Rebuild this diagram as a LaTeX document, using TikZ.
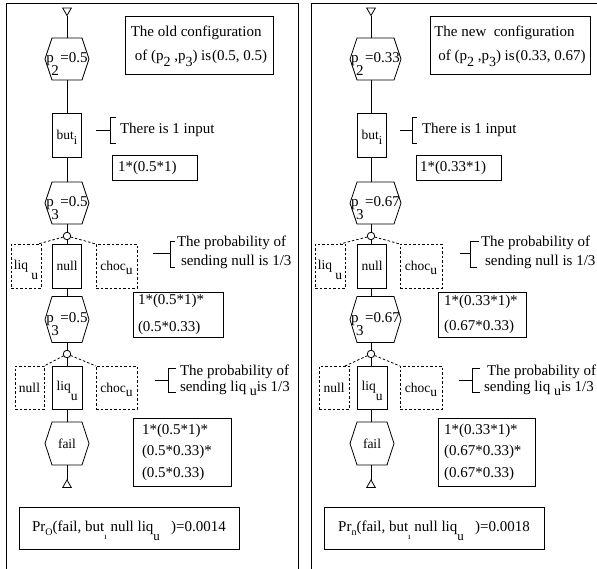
\documentclass[tikz,border=0pt]{standalone}
\usepackage{fontspec}
\setmainfont{Liberation Serif}
\usetikzlibrary{shapes.geometric}
\newcommand\lo[3]{\smash{\raisebox{-#1pt}{\fontsize{#2}{#2}\selectfont #3}}}
\newcommand\hexo[1]{\draw ([xshift=7pt]#1.north west) -- ([xshift=-7pt]#1.north east) -- (#1.east) -- ([xshift=-7pt]#1.south east) -- ([xshift=7pt]#1.south west) -- (#1.west) -- cycle;}
\begin{document}
\begin{tikzpicture}[x=1pt,y=-1pt,line width=0.8pt,
 every node/.style={inner sep=0pt,outer sep=0pt},
 txt/.style={font=\fontsize{15}{19}\selectfont,align=left},
 hexa/.style={minimum height=42,font=\fontsize{15}{18}\selectfont},
 sbox/.style={draw,minimum width=29,minimum height=44,font=\fontsize{13.5}{16}\selectfont},
 dbox/.style={sbox,dash pattern=on 2.5pt off 2pt},
 dline/.style={dash pattern=on 2.5pt off 2pt},
 pbox/.style={draw,align=left,anchor=north west,font=\fontsize{15}{22}\selectfont},
 circ/.style={draw,circle,minimum size=7.5},
 dtri/.style={draw,regular polygon,regular polygon sides=3,minimum size=10,shape border rotate=180},
 utri/.style={draw,regular polygon,regular polygon sides=3,minimum size=10},
]
\useasboundingbox (0,0) rectangle (597,568);
\begin{scope}
\clip (0,0) rectangle (597,568);
\draw (6,600) -- (6,3.5) -- (298,3.5) -- (298,600);
\draw (311,600) -- (311,3.5) -- (620,3.5);
\end{scope}

% ---------------- left panel ----------------
\node[dtri] (tA) at (67,10.5) {};
\node[hexa,minimum width=44] (hA) at (67,59) {p\kern-2.5pt\lo{13}{15}{2}\kern1.5pt=0.5};
\node[sbox] (bA) at (67,135) {but\lo{5}{12}{i}};
\node[hexa,minimum width=44] (hB) at (67,203) {p\kern-2.5pt\lo{13}{15}{3}\kern1.5pt=0.5};
\node[circ] (cA) at (67,236) {};
\node[sbox] (nA) at (67,266) {null};
\node[dbox,minimum width=30] (lA) at (26,266) {liq\ \lo{10}{13.5}{u}};
\node[dbox,minimum width=41] (kA) at (116.5,266) {choc\lo{4}{13.5}{u}};
\node[hexa,minimum width=44,minimum height=46] (hC) at (67,319.5) {p\kern-2.5pt\lo{13}{15}{3}\kern1.5pt=0.5};
\node[circ] (cB) at (67,354) {};
\node[sbox,minimum width=30,minimum height=43] (qA) at (67,387.5) {liq\lo{10}{13.5}{u}};
\node[dbox,minimum height=43] (mA) at (29.5,387.5) {null};
\node[dbox,minimum width=41,minimum height=43] (kB) at (116.5,387.5) {choc\lo{4}{13.5}{u}};
\node[hexa,minimum width=44,minimum height=43,font=\fontsize{13.5}{16}\selectfont] (fA) at (67,443.5) {fail};
\node[utri] (tB) at (67,485) {};
\hexo{hA}\hexo{hB}\hexo{hC}\hexo{fA}

\draw (tA.corner 1) -- (hA.north);
\draw (hA.south) -- (bA.north);
\draw (bA.south) -- (hB.north);
\draw (hB.south) -- (cA.north);
\draw (cA.south) -- (nA.north);
\draw (nA.south) -- (hC.north);
\draw (hC.south) -- (cB.north);
\draw (cB.south) -- (qA.north);
\draw (qA.south) -- (fA.north);
\draw (fA.south) -- (tB.corner 1);
\draw[dline] (cA) -- ([xshift=-3pt]lA.north east);
\draw[dline] (cA) -- (kA.north west);
\draw[dline] (cB) -- (mA.north east);
\draw[dline] (cB) -- (kB.north west);

\node[pbox,minimum width=148,minimum height=58,font=\fontsize{15}{24}\selectfont] (gA) at (125,16) {The old configuration\\\kern4pt of (p\lo{6}{14}{2} ,p\lo{6}{14}{3}) is\kern1pt(0.5, 0.5)};
\node[pbox,text width=73,inner xsep=6pt,minimum height=25] (eA) at (112,155) {1*(0.5*1)};
\node[pbox,text width=80,inner xsep=5pt,minimum height=45] (eB) at (133,292) {1*(0.5*1)*\\\kern5pt(0.5*0.33)};
\node[pbox,text width=80,inner xsep=9pt,minimum height=68,font=\fontsize{15}{21.5}\selectfont] (eC) at (133,418) {1*(0.5*1)*\\(0.5*0.33)*\\(0.5*0.33)};
\node[pbox,minimum width=220,minimum height=42] (rA) at (19,507) {Pr\lo{4}{10}{O}(fail, but\lo{8}{9}{ı} null liq\lo{9}{13}{u}\ \ \ )=0.0014};

\node[txt,anchor=west] (iA) at (120,130) {There is 1 input};
\node[txt,anchor=west] (pA) at (177,252.5) {The probability of\\\kern4pt sending null is 1/3};
\node[txt,anchor=west,font=\fontsize{15}{16}\selectfont] (pB) at (180,380) {The probability of\\sending liq \lo{4}{14}{u}is 1/3};

\coordinate (sA) at (96,130);
\draw (sA) -- (110,130);
\draw (116,117) -- (110,117) -- (110,143) -- (116,143);
\coordinate (sB) at (153,253);
\draw (sB) -- (170,253);
\draw (175,241) -- (170,241) -- (170,267) -- (175,267);
\coordinate (sC) at (155,380);
\draw (sC) -- (168,380);
\draw (176,368) -- (168,368) -- (168,392) -- (176,392);

% ---------------- right panel ----------------
\node[dtri] (tC) at (371,10.5) {};
\node[hexa,minimum width=51] (hD) at (375.5,59) {p\kern-2.5pt\lo{13}{15}{2}\kern1.5pt=0.33};
\node[sbox] (bB) at (372,135) {but\lo{5}{12}{i}};
\node[hexa,minimum width=51] (hE) at (375.5,203) {p\kern-2.5pt\lo{13}{15}{3}\kern1.5pt=0.67};
\node[circ] (cC) at (371,236) {};
\node[sbox] (nB) at (372,266) {null};
\node[dbox,minimum width=30] (lB) at (330,266) {liq\ \lo{10}{13.5}{u}};
\node[dbox,minimum width=42] (kC) at (421,266) {choc\lo{4}{13.5}{u}};
\node[hexa,minimum width=51,minimum height=46] (hF) at (375.5,319.5) {p\kern-2.5pt\lo{13}{15}{3}\kern1.5pt=0.67};
\node[circ] (cD) at (371,354) {};
\node[sbox,minimum width=30,minimum height=43] (qB) at (372,387.5) {liq\lo{10}{13.5}{u}};
\node[dbox,minimum width=30,minimum height=43] (mB) at (334,387.5) {null};
\node[dbox,minimum width=42,minimum height=43] (kD) at (421,387.5) {choc\lo{4}{13.5}{u}};
\node[hexa,minimum width=44,minimum height=43,font=\fontsize{13.5}{16}\selectfont] (fB) at (372,443.5) {fail};
\node[utri] (tD) at (371,485) {};
\hexo{hD}\hexo{hE}\hexo{hF}\hexo{fB}

\draw (tC.corner 1) -- (tC.corner 1 |- hD.north);
\draw (tC.corner 1 |- hD.south) -- (tC.corner 1 |- bB.north);
\draw (tC.corner 1 |- bB.south) -- (tC.corner 1 |- hE.north);
\draw (tC.corner 1 |- hE.south) -- (cC.north);
\draw (cC.south) -- (cC.south |- nB.north);
\draw (cC.south |- nB.south) -- (cC.south |- hF.north);
\draw (cC.south |- hF.south) -- (cD.north);
\draw (cD.south) -- (cD.south |- qB.north);
\draw (cD.south |- qB.south) -- (cD.south |- fB.north);
\draw (cD.south |- fB.south) -- (tD.corner 1);
\draw[dline] (cC) -- ([xshift=-5pt]lB.north east);
\draw[dline] (cC) -- (kC.north west);
\draw[dline] (cD) -- ([xshift=-4pt]mB.north east);
\draw[dline] (cD) -- (kD.north west);

\node[pbox,minimum width=160,minimum height=58,font=\fontsize{15}{24}\selectfont] (gB) at (430,16) {The new\ \ configuration\\\kern4pt of (p\lo{6}{14}{2} ,p\lo{6}{14}{3}) is\kern1pt(0.33, 0.67)};
\node[pbox,text width=77,inner xsep=4pt,minimum height=25] (eD) at (416,155) {1*(0.33*1)};
\node[pbox,text width=76,inner xsep=6pt,minimum height=45] (eE) at (438,292) {1*(0.33*1)*\\\kern3pt(0.67*0.33)};
\node[pbox,text width=85,inner xsep=6pt,minimum height=68,font=\fontsize{15}{21.5}\selectfont] (eF) at (438,418) {1*(0.33*1)*\\(0.67*0.33)*\\(0.67*0.33)};
\node[pbox,minimum width=220,minimum height=42] (rB) at (324,507) {Pr\lo{4}{10}{n}(fail, but\lo{8}{9}{ı} null liq\lo{9}{13}{u}\ \ \ )=0.0018};

\node[txt,anchor=west] (iB) at (422,130) {There is 1 input};
\node[txt,anchor=west] (pC) at (481,252.5) {The probability of\\\kern4pt sending null is 1/3};
\node[txt,anchor=west,font=\fontsize{15}{16}\selectfont] (pD) at (484,380) {\kern3pt The probability of\\sending liq \lo{4}{14}{u}is 1/3};

\coordinate (sD) at (400,130);
\draw (sD) -- (412,130);
\draw (417,117) -- (412,117) -- (412,143) -- (417,143);
\coordinate (sE) at (460,253);
\draw (sE) -- (470,253);
\draw (479,241) -- (470,241) -- (470,267) -- (477,267);
\coordinate (sF) at (459,380);
\draw (sF) -- (472,380);
\draw (480,368) -- (472,368) -- (472,392) -- (480,392);
\end{tikzpicture}
\end{document}
